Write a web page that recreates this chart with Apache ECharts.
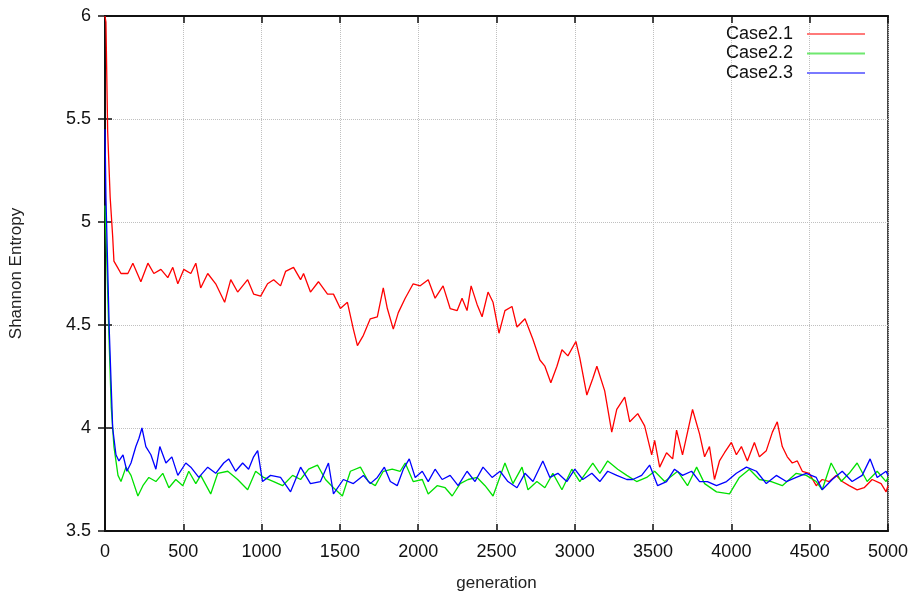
<!DOCTYPE html>
<html>
<head>
<meta charset="utf-8">
<script src="https://cdn.jsdelivr.net/npm/echarts@6/dist/echarts.min.js"></script>
<style>
html, body { margin: 0; padding: 0; background: #fff; }
#chart { width: 911px; height: 597px; }
</style>
</head>
<body>
<div id="chart"></div>
<script>
var seriesNames = ['Case2.1', 'Case2.2', 'Case2.3'];
var xTicks = [0, 500, 1000, 1500, 2000, 2500, 3000, 3500, 4000, 4500, 5000];
var yTicks = [3.5, 4, 4.5, 5, 5.5, 6];

// Case2.1 (red)
var case21Gen = [0, 6, 17, 33, 49, 57, 80, 102, 146, 178, 229, 274, 312, 357, 401, 433, 465, 503, 548, 580,
	611, 656, 707, 764, 803, 847, 911, 949, 994, 1038, 1077, 1121, 1153, 1204, 1249, 1268, 1312, 1363, 1421, 1459,
	1503, 1548, 1586, 1612, 1650, 1694, 1739, 1777, 1803, 1841, 1873, 1917, 1968, 2013, 2064, 2108, 2159, 2204, 2249, 2280,
	2312, 2338, 2376, 2408, 2446, 2478, 2516, 2554, 2599, 2631, 2682, 2733, 2777, 2809, 2847, 2886, 2918, 2956, 3007, 3032,
	3077, 3115, 3141, 3191, 3236, 3268, 3319, 3351, 3402, 3446, 3491, 3510, 3542, 3586, 3625, 3650, 3688, 3720, 3752, 3797,
	3829, 3860, 3892, 3924, 3956, 4000, 4032, 4064, 4102, 4147, 4179, 4223, 4262, 4293, 4325, 4357, 4389, 4421, 4453, 4497,
	4542, 4580, 4625, 4669, 4708, 4752, 4803, 4848, 4899, 4956, 4988, 5000];
var case21Val = [6.0, 5.97, 5.44, 5.12, 4.93, 4.81, 4.78, 4.75, 4.75, 4.80, 4.71, 4.80, 4.75, 4.77, 4.73, 4.78, 4.70, 4.77, 4.75, 4.80,
	4.68, 4.75, 4.70, 4.61, 4.72, 4.66, 4.72, 4.65, 4.64, 4.70, 4.72, 4.69, 4.76, 4.78, 4.72, 4.75, 4.66, 4.71, 4.65, 4.65,
	4.58, 4.61, 4.48, 4.40, 4.45, 4.53, 4.54, 4.68, 4.58, 4.48, 4.56, 4.63, 4.70, 4.69, 4.72, 4.63, 4.69, 4.58, 4.57, 4.63,
	4.57, 4.69, 4.60, 4.54, 4.66, 4.61, 4.46, 4.57, 4.59, 4.49, 4.53, 4.43, 4.33, 4.30, 4.22, 4.30, 4.38, 4.35, 4.42, 4.34,
	4.16, 4.24, 4.30, 4.18, 3.98, 4.09, 4.15, 4.03, 4.07, 4.01, 3.87, 3.94, 3.81, 3.88, 3.85, 3.99, 3.87, 3.98, 4.09, 3.97,
	3.86, 3.91, 3.75, 3.84, 3.88, 3.93, 3.87, 3.91, 3.84, 3.93, 3.86, 3.89, 3.98, 4.03, 3.91, 3.86, 3.83, 3.84, 3.79, 3.78,
	3.72, 3.75, 3.74, 3.77, 3.74, 3.72, 3.70, 3.71, 3.75, 3.73, 3.69, 3.72];

// Case2.2 (green)
var case22Gen = [0, 10, 25, 40, 57, 83, 102, 134, 166, 210, 242, 280, 325, 369, 408, 452, 497, 535, 580, 611,
	675, 720, 784, 847, 911, 962, 1013, 1077, 1134, 1198, 1249, 1300, 1357, 1408, 1459, 1516, 1567, 1631, 1682, 1726,
	1777, 1834, 1885, 1917, 1968, 2026, 2064, 2121, 2172, 2217, 2268, 2319, 2376, 2427, 2478, 2554, 2605, 2663, 2701, 2758,
	2809, 2860, 2918, 2981, 3032, 3115, 3160, 3210, 3274, 3332, 3395, 3459, 3510, 3574, 3657, 3720, 3778, 3829, 3905, 3988,
	4051, 4115, 4179, 4255, 4325, 4414, 4478, 4542, 4580, 4637, 4701, 4752, 4803, 4867, 4931, 4988, 5000];
var case22Val = [5.08, 4.85, 4.45, 4.10, 3.91, 3.77, 3.74, 3.81, 3.77, 3.67, 3.72, 3.76, 3.74, 3.78, 3.71, 3.75, 3.72, 3.79, 3.73, 3.77,
	3.68, 3.78, 3.79, 3.75, 3.70, 3.79, 3.76, 3.74, 3.72, 3.77, 3.75, 3.80, 3.82, 3.75, 3.71, 3.67, 3.79, 3.81, 3.74, 3.72,
	3.79, 3.80, 3.79, 3.83, 3.74, 3.75, 3.68, 3.72, 3.71, 3.67, 3.73, 3.75, 3.76, 3.72, 3.67, 3.83, 3.73, 3.81, 3.70, 3.74,
	3.71, 3.78, 3.70, 3.80, 3.74, 3.83, 3.78, 3.84, 3.80, 3.77, 3.74, 3.76, 3.79, 3.74, 3.79, 3.72, 3.81, 3.73, 3.69, 3.68,
	3.76, 3.80, 3.75, 3.74, 3.72, 3.78, 3.77, 3.74, 3.70, 3.83, 3.74, 3.78, 3.83, 3.74, 3.79, 3.74, 3.76];

// Case2.3 (blue)
var case23Gen = [0, 6, 27, 49, 70, 89, 115, 140, 166, 197, 217, 236, 261, 293, 325, 350, 389, 427, 465, 516,
	548, 599, 656, 707, 758, 790, 834, 879, 917, 949, 975, 1006, 1057, 1121, 1185, 1249, 1312, 1376, 1427, 1459,
	1522, 1586, 1650, 1694, 1739, 1784, 1822, 1866, 1905, 1943, 1981, 2026, 2064, 2108, 2153, 2204, 2255, 2312, 2363, 2414,
	2472, 2523, 2573, 2631, 2682, 2733, 2796, 2841, 2892, 2949, 3000, 3051, 3109, 3160, 3210, 3268, 3332, 3370, 3427, 3478,
	3529, 3586, 3637, 3688, 3746, 3797, 3847, 3905, 3969, 4032, 4096, 4160, 4223, 4287, 4351, 4414, 4478, 4542, 4580, 4644,
	4708, 4771, 4835, 4886, 4931, 4988, 5000];
var case23Val = [5.45, 5.12, 4.48, 4.00, 3.87, 3.84, 3.87, 3.79, 3.83, 3.91, 3.95, 4.00, 3.91, 3.87, 3.80, 3.91, 3.83, 3.86, 3.77, 3.83,
	3.81, 3.76, 3.81, 3.78, 3.83, 3.85, 3.79, 3.83, 3.80, 3.86, 3.89, 3.74, 3.77, 3.76, 3.69, 3.81, 3.73, 3.74, 3.83, 3.68,
	3.75, 3.73, 3.77, 3.73, 3.76, 3.81, 3.74, 3.72, 3.80, 3.85, 3.76, 3.79, 3.74, 3.80, 3.75, 3.77, 3.72, 3.79, 3.74, 3.81,
	3.76, 3.79, 3.74, 3.71, 3.78, 3.74, 3.84, 3.76, 3.78, 3.74, 3.80, 3.75, 3.78, 3.74, 3.79, 3.77, 3.75, 3.75, 3.77, 3.82,
	3.72, 3.74, 3.80, 3.77, 3.79, 3.74, 3.74, 3.72, 3.74, 3.78, 3.81, 3.79, 3.73, 3.77, 3.74, 3.76, 3.78, 3.76, 3.70, 3.75,
	3.79, 3.74, 3.77, 3.85, 3.76, 3.79, 3.77];

function pairs(gens, vals) {
	var out = [];
	for (var i = 0; i < gens.length; i++) {
		out.push([gens[i], vals[i]]);
	}
	return out;
}

var chart = echarts.init(document.getElementById('chart'), null, { renderer: 'canvas' });
var colors = ['#ff0000', '#00e000', '#0000ff'];
// legend samples look paler in the original
var legendColors = ['#ff7a7a', '#6fe86f', '#7a7aff'];
var font = 'Liberation Sans, Arial, sans-serif';

var legendData = [];
for (var k = 0; k < seriesNames.length; k++) {
	legendData.push({ name: seriesNames[k], itemStyle: { color: legendColors[k] } });
}

var option = {
	animation: false,
	color: colors,
	grid: {
		left: 104,
		right: 22,
		top: 16,
		bottom: 59,
		show: true,
		borderColor: '#111',
		borderWidth: 1.5
	},
	legend: {
		data: legendData,
		orient: 'vertical',
		align: 'right',
		right: 46,
		top: 25,
		padding: 0,
		icon: 'rect',
		itemWidth: 58,
		itemHeight: 2,
		itemGap: 1.5,
		textStyle: {
			fontFamily: font,
			fontSize: 18,
			color: '#111',
			padding: [0, 9, 0, 0]
		}
	},
	xAxis: [{
		type: 'value',
		min: 0,
		max: 5000,
		interval: 500,
		name: 'generation',
		nameLocation: 'middle',
		nameGap: 44,
		nameTextStyle: { fontFamily: font, fontSize: 17, color: '#222' },
		axisLine: { lineStyle: { color: '#111', width: 2 } },
		axisTick: { inside: true, length: 7, lineStyle: { color: '#111', width: 1.5 } },
		axisLabel: {
			margin: 12, fontFamily: font, fontSize: 18, color: '#111',
			formatter: function (v) { return String(v); }
		},
		splitLine: { show: true, lineStyle: { color: '#c0c0c0', type: 'dotted', width: 1 } }
	}, {
		type: 'value',
		position: 'top',
		min: 0,
		max: 5000,
		interval: 500,
		axisLine: { lineStyle: { color: '#111', width: 2 } },
		axisTick: { inside: true, length: 7, lineStyle: { color: '#111', width: 1.5 } },
		axisLabel: { show: false },
		splitLine: { show: false }
	}],
	yAxis: [{
		type: 'value',
		min: 3.5,
		max: 6,
		interval: 0.5,
		name: 'Shannon Entropy',
		nameLocation: 'middle',
		nameGap: 80,
		nameTextStyle: { fontFamily: font, fontSize: 17, color: '#222' },
		axisLine: { show: true, lineStyle: { color: '#111', width: 2 } },
		axisTick: { show: true, inside: true, length: 7, lineStyle: { color: '#111', width: 1.5 } },
		axisLabel: { margin: 14, fontFamily: font, fontSize: 18, color: '#111' },
		splitLine: { show: true, lineStyle: { color: '#c0c0c0', type: 'dotted', width: 1 } }
	}, {
		type: 'value',
		position: 'right',
		min: 3.5,
		max: 6,
		interval: 0.5,
		axisLine: { show: true, lineStyle: { color: '#111', width: 2 } },
		axisTick: { show: true, inside: true, length: 7, lineStyle: { color: '#111', width: 1.5 } },
		axisLabel: { show: false },
		splitLine: { show: false }
	}],
	series: [{
		name: seriesNames[0],
		type: 'line',
		symbol: 'none',
		lineStyle: { width: 1.3, color: colors[0] },
		data: pairs(case21Gen, case21Val)
	}, {
		name: seriesNames[1],
		type: 'line',
		symbol: 'none',
		lineStyle: { width: 1.3, color: colors[1] },
		data: pairs(case22Gen, case22Val)
	}, {
		name: seriesNames[2],
		type: 'line',
		symbol: 'none',
		lineStyle: { width: 1.3, color: colors[2] },
		data: pairs(case23Gen, case23Val)
	}]
};
chart.setOption(option);
</script>
</body>
</html>
